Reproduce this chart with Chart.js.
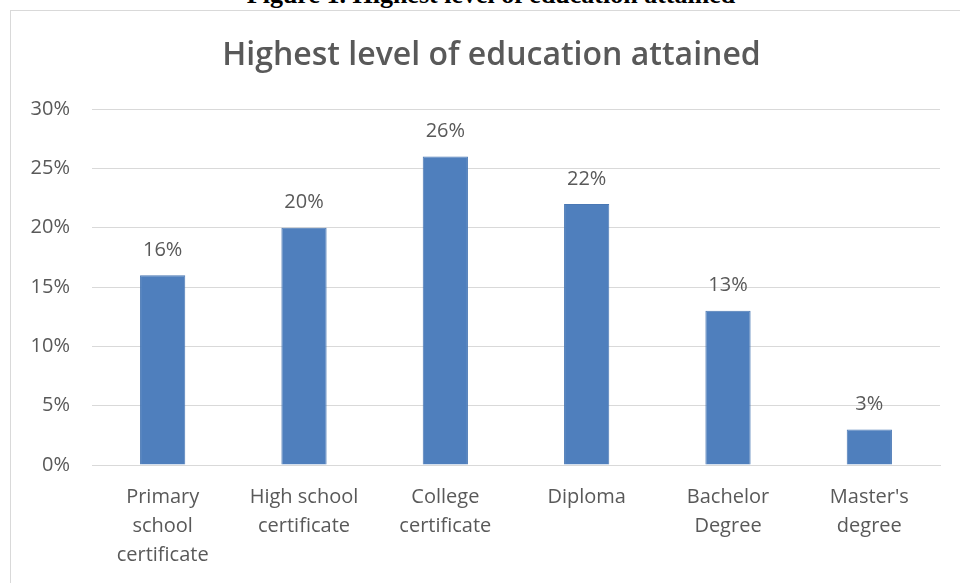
<!DOCTYPE html>
<html>
<head>
<meta charset="utf-8">
<title>Highest level of education attained</title>
<script src="https://cdn.jsdelivr.net/npm/chart.js@4/dist/chart.umd.min.js"></script>
<style>
  body { margin: 0; background: #fff; width: 960px; height: 583px; overflow: hidden; position: relative; }
  .caption {
    position: absolute; left: 0; top: -18px; width: 982px; text-align: center;
    font: bold 26px "Liberation Serif", "Times New Roman", serif; line-height: 26px; color: #000;
  }
  .frame {
    position: absolute; left: 10px; top: 10px; width: 961px; height: 600px;
    border: 1px solid #d9d9d9; background: #fff;
  }
  .chart-box { position: absolute; left: 11px; top: 18px; width: 961px; height: 565px; }
</style>
</head>
<body>
<div class="frame"></div>
<div class="caption">Figure 1. Highest level of education attained</div>
<div class="chart-box"><canvas id="education-chart"></canvas></div>

<script>
// Survey results: share of respondents by highest education level
const categories = [
    ['Primary', 'school', 'certificate'],
    ['High school', 'certificate'],
    ['College', 'certificate'],
    'Diploma',
    ['Bachelor', 'Degree'],
    ["Master's", 'degree']
];
const shares = [16, 20, 26, 22, 13, 3];
const yTicks = [0, 5, 10, 15, 20, 25, 30];

const chartTitle = 'Highest level of education attained';
const textGray = '#595959';
const fontFamily = '"Open Sans", "Liberation Sans", sans-serif';

// Title centred on the whole chart frame, not just the padded layout box
const frameTitle = {
    id: 'frameTitle',
    afterDraw(chart) {
        const ctx = chart.ctx;
        ctx.save();
        ctx.fillStyle = textGray;
        ctx.font = '600 32px ' + fontFamily;
        ctx.textAlign = 'center';
        ctx.textBaseline = 'alphabetic';
        ctx.fillText(chartTitle, chart.width / 2, 47);
        ctx.restore();
    }
};

// Writes the percentage above each bar
const barLabels = {
    id: 'barLabels',
    afterDatasetsDraw(chart) {
        const ctx = chart.ctx;
        const meta = chart.getDatasetMeta(0);
        ctx.save();
        ctx.fillStyle = textGray;
        ctx.font = '20px ' + fontFamily;
        ctx.textAlign = 'center';
        ctx.textBaseline = 'middle';
        meta.data.forEach(function(bar, i) {
            ctx.fillText(shares[i] + '%', bar.x, bar.y - 25);
        });
        ctx.restore();
    }
};

const ctx = document.getElementById('education-chart').getContext('2d');
new Chart(ctx, {
    type: 'bar',
    data: {
        labels: categories,
        datasets: [{
            data: shares,
            backgroundColor: '#4f7fbd',
            borderColor: '#4a78b4',
            borderWidth: 1,
            categoryPercentage: 1,
            barPercentage: 0.32
        }]
    },
    options: {
        responsive: true,
        maintainAspectRatio: false,
        animation: false,
        layout: { padding: { left: 0, right: 32, top: 91, bottom: 0 } },
        plugins: {
            legend: { display: false },
            tooltip: { enabled: false },
            title: { display: false }
        },
        scales: {
            x: {
                grid: { display: false, drawTicks: false },
                border: { display: true, color: '#d9d9d9', width: 1 },
                ticks: {
                    color: textGray,
                    font: { family: fontFamily, size: 20, lineHeight: 1.45 },
                    padding: 18,
                    maxRotation: 0,
                    autoSkip: false
                },
                afterFit(scale) { scale.height = 118; }
            },
            y: {
                min: 0,
                max: 30,
                afterBuildTicks(scale) {
                    scale.ticks = yTicks.map(function(v) { return { value: v }; });
                },
                grid: { color: '#d9d9d9', lineWidth: 1, drawTicks: false },
                border: { display: false },
                ticks: {
                    color: textGray,
                    font: { family: fontFamily, size: 20 },
                    padding: 22,
                    callback: function(v) { return v + '%'; }
                },
                afterFit(scale) { scale.width = 81; }
            }
        }
    },
    plugins: [barLabels, frameTitle]
});
</script>
</body>
</html>
